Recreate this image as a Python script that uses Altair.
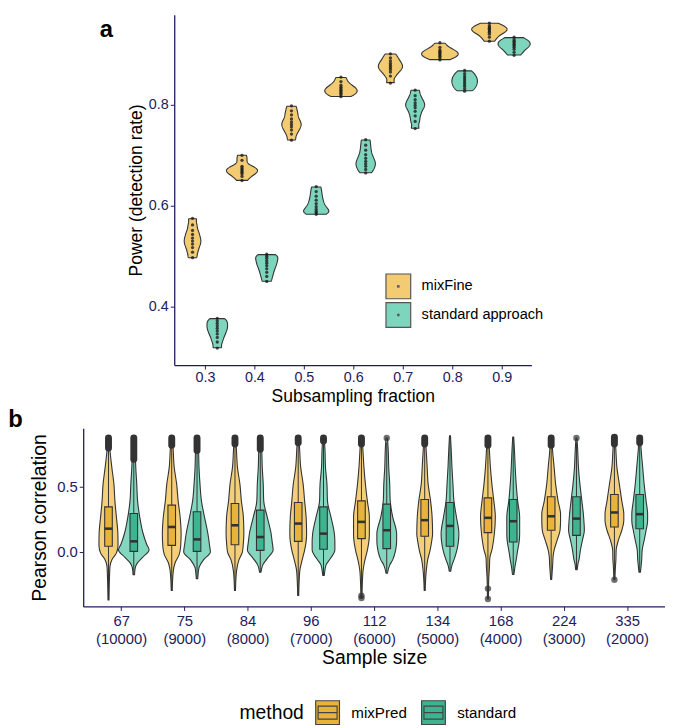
import altair as alt
import pandas as pd

# ---------------- Panel a data (dots) ----------------
fractions = [0.3, 0.4, 0.5, 0.6, 0.7, 0.8, 0.9]
methods_a = ["mixFine", "standard approach"]
mixfine_power = [
    [0.575, 0.562, 0.551, 0.543, 0.536, 0.530, 0.524, 0.517, 0.508, 0.497],
    [0.700, 0.690, 0.678, 0.675, 0.672, 0.669, 0.666, 0.663, 0.658, 0.650],
    [0.798, 0.788, 0.780, 0.772, 0.766, 0.761, 0.756, 0.750, 0.742, 0.730],
    [0.855, 0.846, 0.839, 0.835, 0.832, 0.829, 0.826, 0.823, 0.820, 0.816],
    [0.901, 0.893, 0.887, 0.882, 0.878, 0.874, 0.870, 0.865, 0.857, 0.843],
    [0.923, 0.914, 0.909, 0.906, 0.9035, 0.901, 0.8985, 0.896, 0.893, 0.889],
    [0.962, 0.957, 0.954, 0.9515, 0.949, 0.9465, 0.944, 0.940, 0.934, 0.926],
]
standard_power = [
    [0.377, 0.372, 0.367, 0.362, 0.357, 0.352, 0.346, 0.339, 0.330, 0.318],
    [0.504, 0.500, 0.496, 0.491, 0.486, 0.481, 0.475, 0.468, 0.460, 0.450],
    [0.638, 0.628, 0.619, 0.611, 0.604, 0.598, 0.593, 0.589, 0.586, 0.583],
    [0.731, 0.720, 0.710, 0.701, 0.694, 0.688, 0.683, 0.678, 0.672, 0.665],
    [0.829, 0.818, 0.810, 0.804, 0.799, 0.794, 0.787, 0.778, 0.767, 0.753],
    [0.868, 0.862, 0.857, 0.853, 0.849, 0.845, 0.841, 0.837, 0.832, 0.827],
    [0.934, 0.929, 0.926, 0.923, 0.920, 0.917, 0.914, 0.910, 0.904, 0.898],
]

# ---------------- Panel b data ----------------
sample_sizes = ["67", "75", "84", "96", "112", "134", "168", "224", "335"]
gene_counts = ["10000", "9000", "8000", "7000", "6000", "5000", "4000", "3000", "2000"]
methods_b = ["mixPred", "standard"]

# violin outlines: correlation levels and full widths (relative density)
mixpred_y = [
    [-0.367, -0.20, -0.11, -0.06, -0.01, 0.05, 0.14, 0.27, 0.39, 0.52, 0.65, 0.78, 0.875],
    [-0.295, -0.15, -0.08, -0.02, 0.04, 0.14, 0.27, 0.39, 0.52, 0.65, 0.78, 0.875],
    [-0.295, -0.15, -0.06, 0.00, 0.07, 0.14, 0.27, 0.39, 0.52, 0.65, 0.78, 0.875],
    [-0.333, -0.15, -0.06, 0.015, 0.08, 0.14, 0.27, 0.39, 0.52, 0.65, 0.78, 0.875],
    [-0.352, -0.15, -0.08, 0.015, 0.08, 0.14, 0.27, 0.39, 0.52, 0.65, 0.78, 0.875],
    [-0.295, -0.15, -0.06, 0.015, 0.08, 0.14, 0.27, 0.39, 0.52, 0.65, 0.78, 0.875],
    [-0.359, -0.22, -0.12, -0.04, 0.015, 0.08, 0.14, 0.27, 0.39, 0.52, 0.65, 0.78, 0.875],
    [-0.21, -0.10, -0.03, 0.015, 0.09, 0.167, 0.24, 0.29, 0.39, 0.52, 0.65, 0.77, 0.875],
    [-0.212, -0.12, -0.06, 0.015, 0.09, 0.167, 0.24, 0.29, 0.39, 0.52, 0.65, 0.78, 0.88],
]
mixpred_w = [
    [1, 2, 3, 6.7, 15.7, 19.3, 19, 16, 13, 11, 6.7, 3, 1.5],
    [1, 3, 7, 15, 18, 19, 17, 13, 10, 5, 3, 1.5],
    [1, 3, 8, 15, 17, 18, 17, 13, 10, 5, 3, 1.5],
    [1, 3, 8, 13, 16, 17, 16, 13, 10, 5, 3, 1.5],
    [1, 3, 6, 12, 15, 16, 16, 12, 8, 5, 3, 1.5],
    [1, 3, 6, 11, 14, 16, 15, 12, 7, 5, 3, 1.5],
    [1, 1.5, 3, 4, 8, 11, 13, 15, 12, 8, 5, 3, 1.5],
    [1, 3, 4, 6, 12, 18, 19, 19, 14, 9, 6, 3, 1.5],
    [1, 2, 3, 3.5, 8, 15, 19, 19, 15, 10, 5, 3, 1.5],
]
standard_y = [
    [-0.174, -0.12, -0.085, -0.04, 0.015, 0.06, 0.14, 0.27, 0.39, 0.52, 0.65, 0.78, 0.875],
    [-0.205, -0.12, -0.06, 0.00, 0.06, 0.14, 0.27, 0.39, 0.52, 0.65, 0.78, 0.875],
    [-0.154, -0.10, -0.05, 0.015, 0.08, 0.14, 0.27, 0.39, 0.52, 0.65, 0.78, 0.875],
    [-0.179, -0.10, -0.05, 0.015, 0.08, 0.14, 0.27, 0.39, 0.52, 0.65, 0.78, 0.875],
    [-0.162, -0.10, -0.06, 0.015, 0.08, 0.14, 0.27, 0.39, 0.52, 0.65, 0.78, 0.873],
    [-0.146, -0.10, -0.06, 0.015, 0.08, 0.14, 0.27, 0.39, 0.52, 0.65, 0.78, 0.89],
    [-0.172, -0.10, -0.06, 0.015, 0.08, 0.14, 0.27, 0.39, 0.52, 0.65, 0.78, 0.88],
    [-0.136, -0.09, -0.06, 0.015, 0.09, 0.167, 0.24, 0.29, 0.39, 0.52, 0.65, 0.78, 0.873],
    [-0.154, -0.10, -0.06, 0.015, 0.09, 0.167, 0.24, 0.29, 0.39, 0.52, 0.65, 0.78, 0.875],
]
standard_w = [
    [1.5, 3, 7, 18, 31, 26, 19, 12, 7.7, 6, 4, 3, 1.5],
    [1.5, 4, 13, 27, 25, 22, 15, 9, 6, 4, 3, 1.5],
    [1.5, 5, 14, 26, 24, 22, 14, 7, 6, 4, 3, 1.5],
    [1.5, 5, 14, 23, 23, 22, 15, 8, 7, 4, 3, 1.5],
    [1.5, 6, 12, 18, 20, 20, 12, 7, 6, 4, 3, 1.5],
    [1.5, 4, 8, 14, 17, 18, 13, 8, 6, 4, 2.5, 1],
    [1.5, 4, 6, 9, 12, 13, 13, 9, 6, 4, 2.5, 1],
    [1.5, 3, 5, 8, 12, 16, 15, 14, 11, 7, 4, 2.5, 1],
    [1.5, 3, 4, 5, 9, 13, 16, 16, 13, 9, 6, 3, 1.5],
]

# box plot statistics
mixpred_q1 = [0.044, 0.051, 0.056, 0.082, 0.103, 0.121, 0.149, 0.167, 0.192]
mixpred_med = [0.179, 0.192, 0.205, 0.218, 0.231, 0.244, 0.262, 0.274, 0.303]
mixpred_q3 = [0.346, 0.359, 0.372, 0.379, 0.392, 0.403, 0.415, 0.423, 0.441]
mixpred_wlo = [-0.367, -0.295, -0.295, -0.333, -0.31, -0.295, -0.25, -0.21, -0.195]
mixpred_whi = [0.78, 0.80, 0.81, 0.82, 0.81, 0.81, 0.80, 0.80, 0.81]
standard_q1 = [0.005, 0.005, 0.013, 0.021, 0.026, 0.044, 0.077, 0.128, 0.179]
standard_med = [0.082, 0.097, 0.115, 0.141, 0.167, 0.200, 0.236, 0.256, 0.290]
standard_q3 = [0.295, 0.308, 0.321, 0.346, 0.367, 0.379, 0.403, 0.423, 0.441]
standard_wlo = [-0.174, -0.205, -0.154, -0.179, -0.162, -0.146, -0.172, -0.136, -0.154]
standard_whi = [0.70, 0.76, 0.77, 0.83, 0.84, 0.89, 0.88, 0.84, 0.82]

# dense runs of upper outliers (range of values)
mixpred_out_lo = [0.797, 0.817, 0.827, 0.837, 0.827, 0.827, 0.817, 0.817, 0.827]
mixpred_out_hi = [0.873, 0.873, 0.873, 0.873, 0.873, 0.873, 0.873, 0.873, 0.880]
standard_out_cats = [0, 1, 2, 3, 8]
standard_out_lo = [0.711, 0.777, 0.787, 0.850, 0.837]
standard_out_hi = [0.873, 0.873, 0.873, 0.873, 0.873]
# isolated outliers
single_out_method = ["mixPred", "mixPred", "mixPred", "mixPred", "mixPred", "standard", "standard"]
single_out_cat = [4, 4, 6, 6, 8, 4, 7]
single_out_value = [-0.335, -0.352, -0.28, -0.359, -0.212, 0.873, 0.873]

# ---------------- styles ----------------
NAVY = "#221c5c"
DARK = "#333333"
FONT = "Liberation Sans"
YEL_A, TEAL_A = "#F3CB73", "#7DD5BD"
YEL_V, TEAL_V = "#F4CF7A", "#84D7BE"
YEL_B, TEAL_B = "#E9B33B", "#3DB48F"

# ---------------- Panel a ----------------
rows = []
for m, series in zip(methods_a, [mixfine_power, standard_power]):
    for f, vals in zip(fractions, series):
        for v in vals:
            rows.append({"method": m, "frac": f, "power": v})
df_a = pd.DataFrame(rows)

xa_scale = alt.Scale(domain=[0.238, 0.96], nice=False, zero=False)
ya_scale = alt.Scale(domain=[0.2843, 0.9784], nice=False, zero=False)
axis_common = dict(grid=False, domainColor=NAVY, domainWidth=1.3, tickColor=NAVY, tickSize=4,
                   labelColor=NAVY, titleColor="black", titleFontWeight="normal")
xa_axis = alt.Axis(title="Subsampling fraction", values=fractions, format=".1f",
                   labelFontSize=14.5, titleFontSize=17.7, labelPadding=2, titlePadding=3, **axis_common)
ya_axis = alt.Axis(title="Power (detection rate)", values=[0.4, 0.6, 0.8], format=".1f",
                   labelFontSize=14.5, titleFontSize=17.7, labelPadding=2, titlePadding=3, **axis_common)

dodge_a = "datum.frac + (datum.method == 'mixFine' ? -0.025 : 0.025)"
SQ_DOT = "M-1,-1H1V1H-1Z M-0.07,0A0.07,0.07 0 1,0 0.07,0A0.07,0.07 0 1,0 -0.07,0Z"

violin_a = alt.Chart(df_a).transform_joinaggregate(
    lo="min(power)", hi="max(power)", groupby=["method", "frac"]
).transform_density(
    "power", groupby=["method", "frac", "lo", "hi"], bandwidth=0.006, extent=[0.28, 0.99], steps=700,
    as_=["v", "density"]
).transform_filter(
    "datum.v >= datum.lo && datum.v <= datum.hi"
).transform_joinaggregate(
    maxd="max(density)"
).transform_calculate(
    xc=dodge_a
).transform_calculate(
    xl="datum.xc - 0.037 * datum.density / datum.maxd",
    xr="datum.xc + 0.037 * datum.density / datum.maxd",
).mark_area(orient="horizontal", stroke=DARK, strokeWidth=1.1, strokeJoin="round", opacity=1).encode(
    y=alt.Y("v:Q", scale=ya_scale, axis=ya_axis),
    x=alt.X("xl:Q", scale=xa_scale, axis=xa_axis),
    x2="xr:Q",
    fill=alt.Fill("method:N", scale=alt.Scale(domain=methods_a, range=[YEL_A, TEAL_A]),
                  legend=alt.Legend(title=None, orient="none", legendX=305, legendY=261,
                                    symbolType=SQ_DOT, symbolSize=625, symbolStrokeColor="#555555",
                                    symbolStrokeWidth=1.2, symbolOpacity=1, labelFontSize=14.75,
                                    labelColor="black", labelOffset=10, rowPadding=-6, padding=0)),
    detail="frac:N",
)

dots_a = alt.Chart(df_a).transform_calculate(xc=dodge_a).mark_circle(
    size=11, color="#1b1b1b", opacity=0.8
).encode(
    x=alt.X("xc:Q", scale=xa_scale, axis=xa_axis),
    y=alt.Y("power:Q", scale=ya_scale, axis=ya_axis),
)

panel_a = alt.layer(violin_a, dots_a).properties(
    width=361, height=354,
    title=alt.TitleParams("a", anchor="start", frame="bounds", fontSize=24, fontWeight="bold",
                          font=FONT, color="black", baseline="top", dx=-28, dy=27, offset=0),
)

spacer = alt.Chart(pd.DataFrame({"s": [0]})).mark_point(opacity=0).encode(
    x=alt.value(0), y=alt.value(0)
).properties(width=16, height=10)

# ---------------- Panel b ----------------
prof_rows = []
for m, ys_list, ws_list in [("mixPred", mixpred_y, mixpred_w), ("standard", standard_y, standard_w)]:
    for i, (ys, ws) in enumerate(zip(ys_list, ws_list)):
        for y, w in zip(ys, ws):
            prof_rows.append({"method": m, "cat": i, "r": y, "w": w})
df_v = pd.DataFrame(prof_rows)

box_rows = []
for m, q1, md, q3, lo, hi in [
    ("mixPred", mixpred_q1, mixpred_med, mixpred_q3, mixpred_wlo, mixpred_whi),
    ("standard", standard_q1, standard_med, standard_q3, standard_wlo, standard_whi),
]:
    for i in range(len(sample_sizes)):
        box_rows.append({"method": m, "cat": i, "q1": q1[i], "med": md[i], "q3": q3[i],
                         "wlo": lo[i], "whi": hi[i]})
df_box = pd.DataFrame(box_rows)

blob_rows = [{"method": "mixPred", "cat": i, "lo": lo, "hi": hi}
             for i, (lo, hi) in enumerate(zip(mixpred_out_lo, mixpred_out_hi))]
blob_rows += [{"method": "standard", "cat": c, "lo": lo, "hi": hi}
              for c, lo, hi in zip(standard_out_cats, standard_out_lo, standard_out_hi)]
df_blob = pd.DataFrame(blob_rows)

df_out = pd.DataFrame({"method": single_out_method, "cat": single_out_cat, "r": single_out_value})

xb_scale = alt.Scale(domain=[-0.6, 8.6], nice=False, zero=False)
yb_scale = alt.Scale(domain=[-0.4167, 0.947], nice=False, zero=False)
label_expr = "[" + ",".join(f"['{s}','({g})']" for s, g in zip(sample_sizes, gene_counts)) + "][datum.value]"
xb_axis = alt.Axis(title="Sample size", values=list(range(len(sample_sizes))), labelExpr=label_expr,
                   labelFontSize=15, labelLineHeight=18, titleFontSize=19.5, labelPadding=3,
                   titlePadding=3, labelOverlap=False, labelFlush=False, **axis_common)
yb_axis = alt.Axis(title="Pearson correlation", values=[0.0, 0.5], format=".1f",
                   labelFontSize=15, titleFontSize=19.5, labelPadding=2, titlePadding=7, **axis_common)

dodge_b = "datum.cat + (datum.method == 'mixPred' ? -0.2 : 0.2)"
BOX_SYM = "M-1,-1H1V1H-1Z M-0.8,-0.55H0.8V0.55H-0.8Z M-0.8,0H0.8"

violin_b = alt.Chart(df_v).transform_calculate(xc=dodge_b).transform_calculate(
    xl="datum.xc - datum.w / 128", xr="datum.xc + datum.w / 128", vid="datum.method + datum.cat"
).mark_area(orient="horizontal", interpolate="monotone", stroke=DARK, strokeWidth=1.1,
            strokeJoin="round", opacity=1).encode(
    y=alt.Y("r:Q", scale=yb_scale, axis=yb_axis),
    x=alt.X("xl:Q", scale=xb_scale, axis=xb_axis),
    x2="xr:Q",
    fill=alt.Fill("method:N", scale=alt.Scale(domain=methods_b, range=[YEL_V, TEAL_V]), legend=None),
    detail="vid:N",
)

box_base = alt.Chart(df_box).transform_calculate(xc=dodge_b).transform_calculate(
    bl="datum.xc - 0.06", br="datum.xc + 0.06"
)
whisk_lo = box_base.mark_rule(color=DARK, strokeWidth=1).encode(
    x=alt.X("xc:Q", scale=xb_scale, axis=xb_axis),
    y=alt.Y("wlo:Q", scale=yb_scale, axis=yb_axis), y2="q1:Q")
whisk_hi = box_base.mark_rule(color=DARK, strokeWidth=1).encode(
    x=alt.X("xc:Q", scale=xb_scale, axis=xb_axis),
    y=alt.Y("q3:Q", scale=yb_scale, axis=yb_axis), y2="whi:Q")
boxes = box_base.mark_rect(stroke=DARK, strokeWidth=1.1, opacity=1).encode(
    x=alt.X("bl:Q", scale=xb_scale, axis=xb_axis), x2="br:Q",
    y=alt.Y("q1:Q", scale=yb_scale, axis=yb_axis), y2="q3:Q",
    color=alt.Color("method:N", scale=alt.Scale(domain=methods_b, range=[YEL_B, TEAL_B]),
                    legend=alt.Legend(title="method", orient="none", legendX=158, legendY=274,
                                      direction="horizontal", titleOrient="left",
                                      symbolType=BOX_SYM, symbolSize=576, symbolStrokeColor="#444444",
                                      symbolStrokeWidth=1.2, symbolOpacity=1,
                                      labelFontSize=15.3, labelColor="black", labelOffset=11,
                                      columnPadding=11, titleFontSize=19.5, titleFontWeight="normal",
                                      titleColor="black", titlePadding=10, padding=0)),
)
medians = box_base.mark_rule(color=DARK, strokeWidth=2.6).encode(
    x=alt.X("bl:Q", scale=xb_scale, axis=xb_axis), x2="br:Q",
    y=alt.Y("med:Q", scale=yb_scale, axis=yb_axis))

blobs = alt.Chart(df_blob).transform_calculate(xc=dodge_b).mark_rule(
    color=DARK, strokeWidth=7, strokeCap="round").encode(
    x=alt.X("xc:Q", scale=xb_scale, axis=xb_axis),
    y=alt.Y("lo:Q", scale=yb_scale, axis=yb_axis), y2="hi:Q")

outliers = alt.Chart(df_out).transform_calculate(xc=dodge_b).mark_circle(
    size=42, color=DARK, opacity=0.7).encode(
    x=alt.X("xc:Q", scale=xb_scale, axis=xb_axis),
    y=alt.Y("r:Q", scale=yb_scale, axis=yb_axis))

panel_b = alt.layer(violin_b, whisk_lo, whisk_hi, boxes, medians, blobs, outliers).properties(
    width=588, height=180,
    title=alt.TitleParams("b", anchor="start", frame="bounds", fontSize=24, fontWeight="bold",
                          font=FONT, color="black", dx=-22, dy=4, offset=0),
).resolve_scale(fill="independent", color="independent")

chart = alt.vconcat(
    alt.hconcat(spacer, panel_a, spacing=0), panel_b, spacing=3
).resolve_scale(fill="independent", color="independent").properties(
    padding=0
).configure(font=FONT).configure_view(stroke=None)

chart.save("out.html", embed_options={"renderer": "svg", "actions": False})
